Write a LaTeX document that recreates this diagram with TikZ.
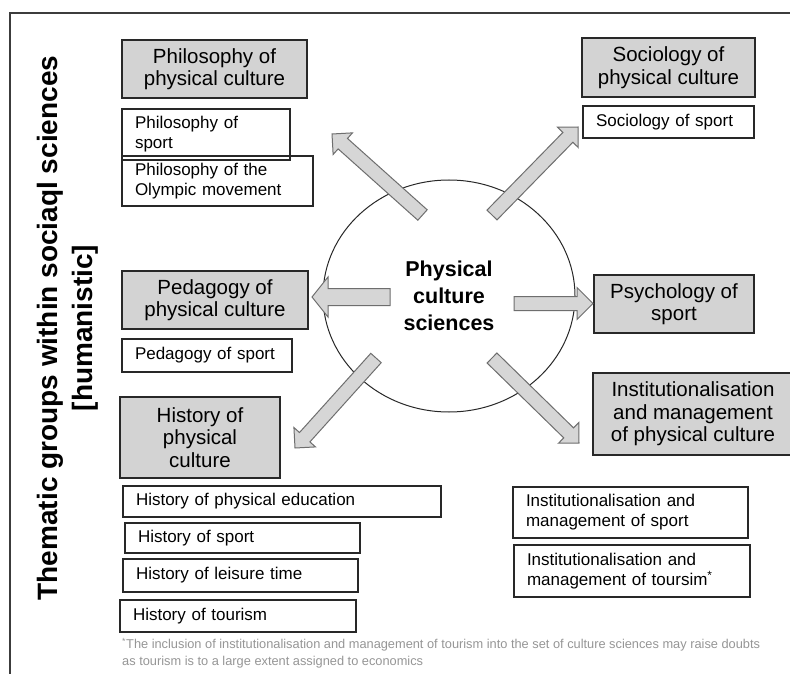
\documentclass[tikz,border=0pt]{standalone}
\usepackage{fontspec}
\setmainfont{Liberation Sans}
\usetikzlibrary{calc,shapes.geometric}
\definecolor{hdrfill}{RGB}{211,211,211}
\definecolor{arrfill}{RGB}{214,214,214}
\definecolor{arredge}{RGB}{110,110,110}
\definecolor{boxedge}{RGB}{40,40,40}
\definecolor{framecol}{RGB}{60,60,60}
\definecolor{notegray}{RGB}{150,150,150}
\tikzset{
  hdr/.style={draw=boxedge, line width=1.6pt, fill=hdrfill, align=center, inner sep=0pt,
    font=\fontsize{20.5}{22.5}\selectfont},
  sub/.style={draw=boxedge, line width=1.4pt, inner xsep=13pt, inner ysep=0pt, align=left,
    font=\fontsize{17}{20}\selectfont},
  blockarrow/.style={fill=arrfill, draw=arredge, line width=1pt, line join=miter},
}
% #1 tail, #2 tip, #3 shaft half width, #4 head half width, #5 head length
\newcommand{\blockarr}[5]{%
  \coordinate (hb) at ($(#2)!#5!(#1)$);
  \path[blockarrow] ($(#1)!#3!90:(#2)$) -- ($(hb)!#3!-90:(#1)$) -- ($(hb)!#4!-90:(#1)$)
    -- (#2) -- ($(hb)!#4!90:(#1)$) -- ($(hb)!#3!90:(#1)$) -- ($(#1)!#3!-90:(#2)$) -- cycle;
}
\begin{document}
\begin{tikzpicture}[x=1pt,y=-1pt]
\clip (0,0) rectangle (790,674);
\fill[white] (0,0) rectangle (790,674);
% frame
\draw[framecol, line width=1.6pt] (10,680) -- (10,13) -- (795,13);

% side label
\node[rotate=90, align=center, inner sep=0pt, font=\bfseries\fontsize{28}{35}\selectfont] (side) at (68,328)
  {Thematic groups within sociaql sciences\\{}[humanistic]};

% central ellipse
\node[draw=boxedge, line width=1pt, ellipse, minimum width=252pt, minimum height=232pt, inner sep=0pt,
  align=center, font=\bfseries\fontsize{21.5}{27}\selectfont] (core) at (449,296) {Physical\\culture\\sciences};

% header boxes
\node[hdr, minimum width=185pt, minimum height=58pt] (philh) at (214.5,69) {Philosophy of\\physical culture};
\node[hdr, minimum width=173pt, minimum height=59pt] (socih) at (668.5,67.5) {Sociology of\\physical culture};
\node[hdr, minimum width=186pt, minimum height=58pt] (pedh) at (215,300) {Pedagogy of\\physical culture};
\node[hdr, minimum width=160pt, minimum height=58pt] (psyh) at (674,304) {Psychology of\\sport};
\node[hdr, minimum width=200pt, minimum height=82pt] (insth) at (693,414) {Institutionalisation\\and management\\of physical culture};
\node[hdr, minimum width=160pt, minimum height=81pt] (histh) at (200,437.5) {History of\\physical\\culture};

% sub boxes
\node[sub, minimum width=191pt, minimum height=50pt, text width=165pt] (philol) at (217.5,181) {Philosophy of the\\Olympic movement};
\node[sub, minimum width=168pt, minimum height=51pt, text width=142pt] (philsp) at (206,134.5) {Philosophy of\\sport};
\node[sub, minimum width=171pt, minimum height=32pt, text width=145pt] (socsp) at (668.5,122) {Sociology of sport};
\node[sub, minimum width=170pt, minimum height=33pt, text width=144pt] (pedsp) at (207,355.5) {Pedagogy of sport};
\node[sub, minimum width=318pt, minimum height=31pt, text width=292pt] (histpe) at (282,501.5) {History of physical education};
\node[sub, minimum width=235pt, minimum height=30pt, text width=209pt] (histsp) at (242.5,538) {History of sport};
\node[sub, minimum width=235pt, minimum height=33pt, text width=209pt] (histle) at (240.5,575.5) {History of leisure time};
\node[sub, minimum width=236pt, minimum height=32pt, text width=210pt] (histto) at (238,616) {History of tourism};
\node[sub, minimum width=235pt, minimum height=51pt, text width=209pt] (instsp) at (630.5,512.5) {Institutionalisation and\\management of sport};
\node[sub, minimum width=236pt, minimum height=52pt, text width=210pt] (instto) at (632,571) {Institutionalisation and\\management of toursim\textsuperscript{*}};

% arrows
\coordinate (t1) at (422.5,215); \coordinate (p1) at (332,134);
\coordinate (t2) at (492,215);   \coordinate (p2) at (578,127);
\coordinate (t3) at (376,358);   \coordinate (p3) at (295,448);
\coordinate (t4) at (492,358);   \coordinate (p4) at (579,443);
\coordinate (t5) at (390,297);   \coordinate (p5) at (312,297);
\coordinate (t6) at (514,303.5); \coordinate (p6) at (593,303.5);
\blockarr{t1}{p1}{7pt}{14.5pt}{14.5pt}
\blockarr{t2}{p2}{7pt}{14.5pt}{14.5pt}
\blockarr{t3}{p3}{7pt}{14.5pt}{14.5pt}
\blockarr{t4}{p4}{7pt}{14.5pt}{14.5pt}
\blockarr{t5}{p5}{8.5pt}{20pt}{16pt}
\blockarr{t6}{p6}{7pt}{16pt}{16pt}

% footnote
\node[anchor=north west, align=left, inner sep=0pt, text=notegray, font=\fontsize{12.8}{17}\selectfont] (note) at (122,638)
  {\textsuperscript{*}The inclusion of institutionalisation and management of tourism into the set of culture sciences may raise doubts\\
   as tourism is to a large extent assigned to economics};
\end{tikzpicture}
\end{document}
